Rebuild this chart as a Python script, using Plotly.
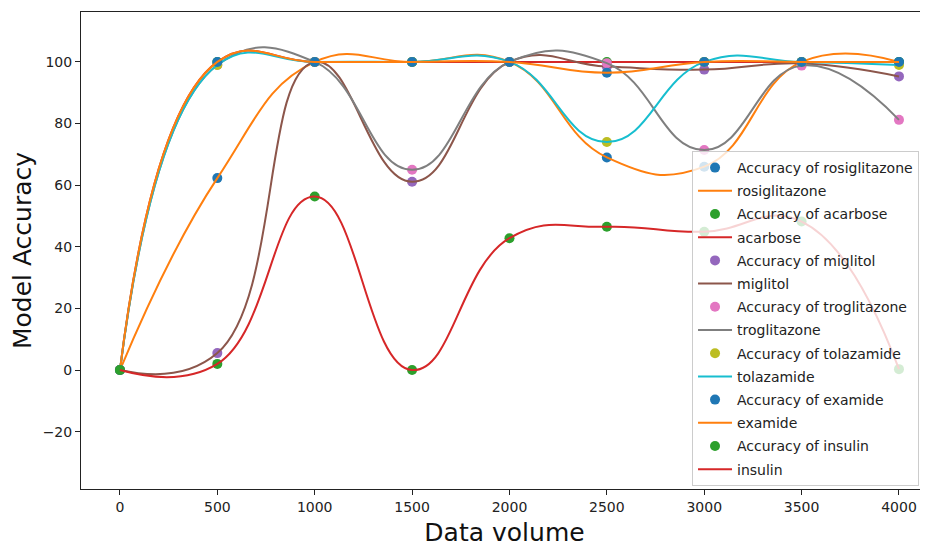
import plotly.graph_objects as go

x_vals = [0, 500, 1000, 1500, 2000, 2500, 3000, 3500, 4000]
rosiglitazone = [0, 62.3, 100, 100, 100, 69.0, 66.0, 100, 100]
acarbose = [0, 100, 100, 100, 100, 100, 100, 100, 100]
miglitol = [0, 5.5, 100, 61.1, 100, 98.5, 97.5, 99.5, 95.3]
troglitazone = [0, 99, 100, 65.0, 100, 99.6, 71.4, 98.8, 81.2]
tolazamide = [0, 99, 100, 100, 100, 74.0, 100, 100, 99]
examide = [0, 100, 100, 100, 100, 96.5, 100, 100, 100]
insulin = [0, 2.0, 56.3, 0, 42.8, 46.5, 44.9, 48.2, 0.3]

series = [
    ("rosiglitazone", rosiglitazone, "#1f77b4", "#ff7f0e"),
    ("acarbose", acarbose, "#2ca02c", "#d62728"),
    ("miglitol", miglitol, "#9467bd", "#8c564b"),
    ("troglitazone", troglitazone, "#e377c2", "#7f7f7f"),
    ("tolazamide", tolazamide, "#bcbd22", "#17becf"),
    ("examide", examide, "#1f77b4", "#ff7f0e"),
    ("insulin", insulin, "#2ca02c", "#d62728"),
]

x_ticks = [0, 500, 1000, 1500, 2000, 2500, 3000, 3500, 4000]
y_ticks = [-20, 0, 20, 40, 60, 80, 100]

fig = go.Figure()
g = 0
for name, vals, pcol, lcol in series:
    fig.add_trace(go.Scatter(
        x=x_vals, y=vals, mode="markers", name=f"Accuracy of {name}",
        legendgroup=f"g{g}",
        marker=dict(color=pcol, size=10),
    ))
    g += 1
    fig.add_trace(go.Scatter(
        x=x_vals, y=vals, mode="lines", name=name,
        legendgroup=f"g{g}",
        line=dict(color=lcol, width=2, shape="spline", smoothing=1.3),
    ))
    g += 1

font = "DejaVu Sans, sans-serif"
fig.update_layout(
    width=920, height=541,
    margin=dict(l=73, r=0, t=4, b=60),
    paper_bgcolor="white", plot_bgcolor="white",
    font=dict(family=font, size=14, color="#222"),
    showlegend=True,
    legend=dict(
        x=0.7214, y=0.7086, xanchor="left", yanchor="top",
        bgcolor="rgba(255,255,255,0.8)", bordercolor="#cccccc", borderwidth=1,
        font=dict(family=font, size=14, color="#222"),
        traceorder="grouped", tracegroupgap=2, itemwidth=34,
    ),
    xaxis=dict(
        range=[-200, 4149], tickvals=x_ticks, ticktext=[str(v) for v in x_ticks],
        showgrid=False, zeroline=False,
        showline=True, linecolor="#222", linewidth=1, mirror=True,
        ticks="outside", ticklen=5, tickcolor="#222",
        tickfont=dict(family=font, size=14, color="#222"),
        title=dict(text="Data volume", font=dict(family=font, size=25, color="#111"), standoff=9),
    ),
    yaxis=dict(
        range=[-38.6, 116.2], tickvals=y_ticks,
        showgrid=False, zeroline=False,
        showline=True, linecolor="#222", linewidth=1, mirror=False,
        ticks="outside", ticklen=5, tickcolor="#222",
        tickfont=dict(family=font, size=14, color="#222"),
        title=dict(text="Model Accuracy", font=dict(family=font, size=25, color="#111"), standoff=6),
    ),
)

fig.write_html("out.html")
